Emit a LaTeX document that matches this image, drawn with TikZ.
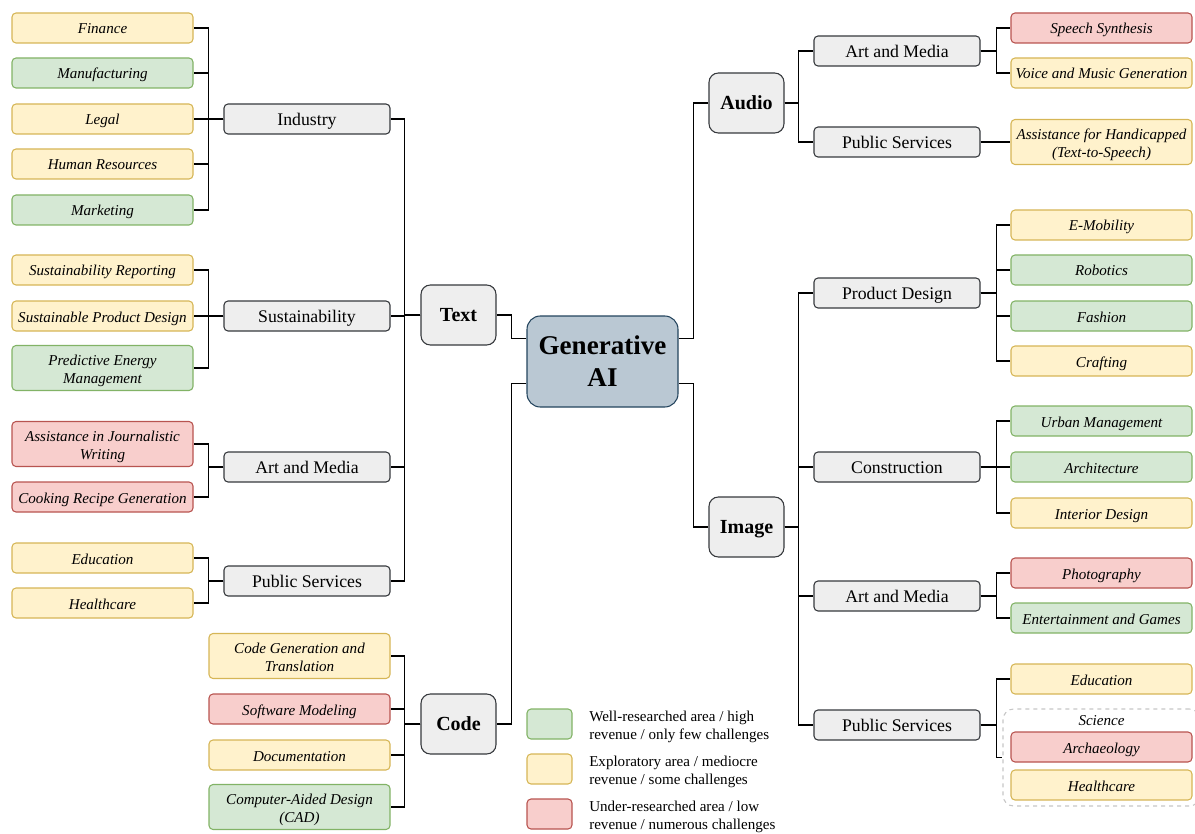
\documentclass[tikz,border=0pt]{standalone}
\usepackage{fontspec}
\setmainfont{Liberation Serif}
\definecolor{gfill}{HTML}{D5E8D4}\definecolor{gdraw}{HTML}{82B366}
\definecolor{yfill}{HTML}{FFF2CC}\definecolor{ydraw}{HTML}{D6B656}
\definecolor{rfill}{HTML}{F8CECC}\definecolor{rdraw}{HTML}{B85450}
\definecolor{cfill}{HTML}{EEEEEE}\definecolor{cdraw}{HTML}{36393D}
\definecolor{afill}{HTML}{BAC8D3}\definecolor{adraw}{HTML}{23445D}
\tikzset{
  leaf/.style={rounded corners=3pt,line width=0.8pt,minimum width=135.75pt,minimum height=22.5pt,
    inner sep=1pt,align=center,text height=1.1em,text depth=0.2em,font=\fontsize{11.3}{13.5}\selectfont\itshape},
  tall/.style={minimum height=33.75pt,text height=24pt,text depth=0.5pt},
  gleaf/.style={leaf,fill=gfill,draw=gdraw},
  yleaf/.style={leaf,fill=yfill,draw=ydraw},
  rleaf/.style={leaf,fill=rfill,draw=rdraw},
  cat/.style={rounded corners=3pt,line width=0.8pt,fill=cfill,draw=cdraw,minimum width=124.5pt,
    minimum height=22.5pt,inner sep=1pt,text height=1.15em,text depth=0.2em,font=\fontsize{13.3}{16}\selectfont},
  main/.style={rounded corners=7pt,line width=0.8pt,fill=cfill,draw=cdraw,minimum width=56.25pt,
    minimum height=45pt,inner sep=1pt,text height=1.2em,text depth=0.2em,font=\fontsize{15}{18}\selectfont\bfseries},
  conn/.style={line width=1.1pt,black},
  legbox/.style={rounded corners=3pt,line width=0.8pt,minimum width=33.75pt,minimum height=22.5pt},
  legtext/.style={anchor=west,align=left,inner sep=0pt,font=\fontsize{11.3}{13.5}\selectfont},
}
\begin{document}
\begin{tikzpicture}[x=0.75pt,y=-0.75pt]
\useasboundingbox (0,0) rectangle (1195,834);
% center
\node[rounded corners=10pt,line width=0.8pt,fill=afill,draw=adraw,minimum width=113.25pt,minimum height=68.25pt,
  align=center,font=\fontsize{20.3}{24}\selectfont\bfseries] (gen) at (602.5,361.5) {Generative\\AI};
\node[main] (text) at (458.5,315) {Text};
\node[main] (code) at (458.5,724) {Code};
\node[main] (audio) at (746.5,103) {Audio};
\node[main] (image) at (746.5,527) {Image};
% Text categories
\node[cat] (ind) at (307,119) {Industry};
\node[cat] (sus) at (307,316) {Sustainability};
\node[cat] (tam) at (307,467) {Art and Media};
\node[cat] (tps) at (307,581) {Public Services};
% Industry leaves
\node[yleaf] (fin) at (102.5,28) {Finance};
\node[gleaf] (man) at (102.5,73) {Manufacturing};
\node[yleaf] (leg) at (102.5,119) {Legal};
\node[yleaf] (hr) at (102.5,164) {Human Resources};
\node[gleaf] (mkt) at (102.5,210) {Marketing};
% Sustainability leaves
\node[yleaf] (srep) at (102.5,270) {Sustainability Reporting};
\node[yleaf] (spd) at (102.5,316) {Sustainable Product Design};
\node[gleaf,tall] (pem) at (102.5,368) {Predictive Energy\\Management};
% Text art and media
\node[rleaf,tall] (ajw) at (102.5,444) {Assistance in Journalistic\\Writing};
\node[rleaf] (crg) at (102.5,497) {Cooking Recipe Generation};
% Text public services
\node[yleaf] (tedu) at (102.5,558) {Education};
\node[yleaf] (thc) at (102.5,603) {Healthcare};
% Code leaves
\node[yleaf,tall] (cgt) at (299.5,656) {Code Generation and\\Translation};
\node[rleaf] (swm) at (299.5,709) {Software Modeling};
\node[yleaf] (doc) at (299.5,755) {Documentation};
\node[gleaf,tall] (cad) at (299.5,807) {Computer-Aided Design\\(CAD)};
% Audio categories
\node[cat] (aam) at (897,51) {Art and Media};
\node[cat] (aps) at (897,142) {Public Services};
\node[rleaf] (ss) at (1101.5,28) {Speech Synthesis};
\node[yleaf] (vmg) at (1101.5,73) {Voice and Music Generation};
\node[yleaf,tall] (afh) at (1101.5,142) {Assistance for Handicapped\\(Text-to-Speech)};
% Image categories
\node[cat] (pd) at (897,293) {Product Design};
\node[cat] (con) at (897,467) {Construction};
\node[cat] (iam) at (897,596) {Art and Media};
\node[cat] (ips) at (897,725) {Public Services};
\node[yleaf] (emo) at (1101.5,225) {E-Mobility};
\node[gleaf] (rob) at (1101.5,270) {Robotics};
\node[gleaf] (fas) at (1101.5,316) {Fashion};
\node[yleaf] (cra) at (1101.5,361) {Crafting};
\node[gleaf] (urb) at (1101.5,421) {Urban Management};
\node[gleaf] (arc) at (1101.5,467) {Architecture};
\node[yleaf] (int) at (1101.5,513) {Interior Design};
\node[rleaf] (pho) at (1101.5,573) {Photography};
\node[gleaf] (eag) at (1101.5,618) {Entertainment and Games};
\node[yleaf] (iedu) at (1101.5,679) {Education};
\node[draw=gray!45,dashed,rounded corners=8pt,line width=0.8pt,minimum width=147.75pt,minimum height=72.75pt] (sci) at (1101.5,757.5) {};
\node[font=\fontsize{11.3}{13.5}\selectfont\itshape] (scilab) at (1101.5,721) {Science};
\node[rleaf] (arch) at (1101.5,747) {Archaeology};
\node[yleaf] (ihc) at (1101.5,785) {Healthcare};
% Legend
\node[legbox,fill=gfill,draw=gdraw] (lg) at (549.5,724) {};
\node[legbox,fill=yfill,draw=ydraw] (ly) at (549.5,769) {};
\node[legbox,fill=rfill,draw=rdraw] (lr) at (549.5,814) {};
\node[legtext] (lgt) at (589,727) {Well-researched area / high\\revenue / only few challenges};
\node[legtext] (lyt) at (589,772) {Exploratory area / mediocre\\revenue / some challenges};
\node[legtext] (lrt) at (589,817) {Under-researched area / low\\revenue / numerous challenges};
% connectors
\draw[conn] ([yshift=17.25pt]gen.west) -- ++(-15,0) |- (text.east);
\draw[conn] ([yshift=-16.5pt]gen.west) -- ++(-15,0) |- (code.east);
\draw[conn] ([yshift=17.25pt]gen.east) -- ++(15,0) |- (audio.west);
\draw[conn] ([yshift=-16.5pt]gen.east) -- ++(15,0) |- (image.west);
\foreach \c in {ind,sus,tam,tps} \draw[conn] (text.west) -- ++(-16,0) |- (\c.east);
\foreach \c in {cgt,swm,doc,cad} \draw[conn] (code.west) -- ++(-16,0) |- (\c.east);
\foreach \c in {fin,man,leg,hr,mkt} \draw[conn] (ind.west) -- ++(-15,0) |- (\c.east);
\foreach \c in {srep,spd,pem} \draw[conn] (sus.west) -- ++(-15,0) |- (\c.east);
\foreach \c in {ajw,crg} \draw[conn] (tam.west) -- ++(-15,0) |- (\c.east);
\foreach \c in {tedu,thc} \draw[conn] (tps.west) -- ++(-15,0) |- (\c.east);
\foreach \c in {aam,aps} \draw[conn] (audio.east) -- ++(14,0) |- (\c.west);
\foreach \c in {pd,con,iam,ips} \draw[conn] (image.east) -- ++(14,0) |- (\c.west);
\foreach \c in {ss,vmg} \draw[conn] (aam.east) -- ++(16,0) |- (\c.west);
\draw[conn] (aps.east) -- (afh.west);
\foreach \c in {emo,rob,fas,cra} \draw[conn] (pd.east) -- ++(16,0) |- (\c.west);
\foreach \c in {urb,arc,int} \draw[conn] (con.east) -- ++(16,0) |- (\c.west);
\foreach \c in {pho,eag} \draw[conn] (iam.east) -- ++(16,0) |- (\c.west);
\foreach \c in {iedu,sci} \draw[conn] (ips.east) -- ++(16,0) |- (\c.west);
\end{tikzpicture}
\end{document}
